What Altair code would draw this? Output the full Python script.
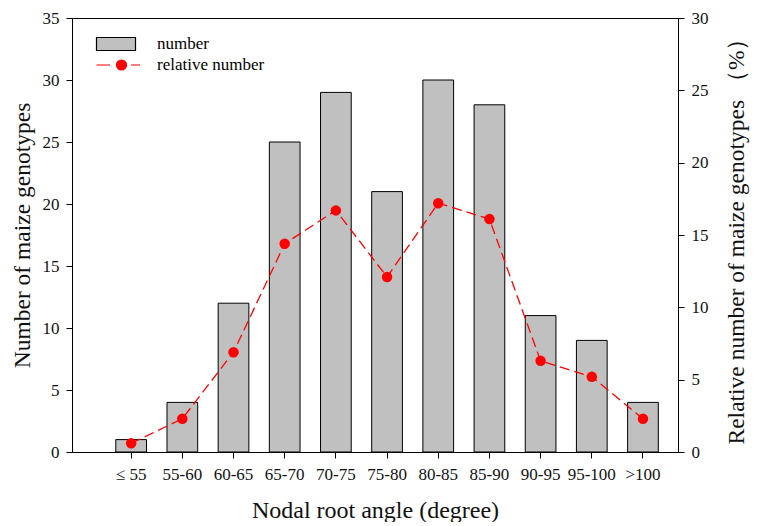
import altair as alt
import pandas as pd

categories = ["≤ 55", "55-60", "60-65", "65-70", "70-75", "75-80",
              "80-85", "85-90", "90-95", "95-100", ">100"]
counts = [1, 4, 12, 25, 29, 21, 30, 28, 11, 9, 4]
relative = [0.6, 2.3, 6.9, 14.4, 16.7, 12.1, 17.2, 16.1, 6.3, 5.2, 2.3]
legend_items = ["number", "relative number"]

df = pd.DataFrame({"angle": categories, "count": counts, "rel": relative})
leg_df = pd.DataFrame({"series": legend_items})

FONT = "Liberation Serif"

xenc = alt.X("angle:N", sort=categories,
             scale=alt.Scale(paddingInner=0.4, paddingOuter=0.62, align=0.69),
             axis=alt.Axis(title="Nodal root angle (degree)", labelAngle=0,
                           labelPadding=8, titlePadding=16, tickSize=6,
                           titleFontSize=24))

bars = alt.Chart(df).mark_bar(color="#c0c0c0", stroke="black", strokeWidth=1).encode(
    x=xenc,
    y=alt.Y("count:Q", scale=alt.Scale(domain=[0, 35]),
            axis=alt.Axis(title="Number of maize genotypes", orient="left",
                          values=list(range(0, 36, 5)), tickSize=6,
                          labelPadding=7, titlePadding=8))
)

yrel = alt.Y("rel:Q", scale=alt.Scale(domain=[0, 30]),
             axis=alt.Axis(title="Relative number of maize genotypes （%）",
                           orient="right", values=list(range(0, 31, 5)),
                           tickSize=6, labelPadding=7, titlePadding=16,
                           titleAngle=270, titleBaseline="top"))

line = alt.Chart(df).mark_line(color="red", strokeDash=[10, 5], strokeWidth=1.3).encode(
    x=xenc, y=yrel)
pts = alt.Chart(df).mark_circle(color="red", size=110, opacity=1).encode(
    x=xenc, y=yrel)
right = alt.layer(line, pts)

rect_path = "M-1.95,-0.65H1.95V0.65H-1.95Z"
line_path = ("M-1.95,0H-0.6M1.5,0H2.4"
             "M1.05,0A0.5,0.5 0 1,1 0.05,0A0.5,0.5 0 1,1 1.05,0Z")

leg = alt.Legend(title=None, orient="none", legendX=33, legendY=15,
                 symbolSize=400, labelOffset=30, labelFont=FONT,
                 labelFontSize=17, labelColor="black", rowPadding=1,
                 padding=0, symbolStrokeWidth=1.2, symbolOpacity=1)

legend_layer = alt.Chart(leg_df).mark_point(filled=True, opacity=0).encode(
    shape=alt.Shape("series:N", scale=alt.Scale(domain=legend_items,
                                                range=[rect_path, line_path]), legend=leg),
    fill=alt.Fill("series:N", scale=alt.Scale(domain=legend_items,
                                              range=["#c0c0c0", "red"]), legend=leg),
    stroke=alt.Stroke("series:N", scale=alt.Scale(domain=legend_items,
                                                  range=["black", "red"]), legend=leg),
)

chart = alt.layer(bars, right, legend_layer).resolve_scale(
    y="independent"
).properties(
    width=606, height=434,
    padding={"left": 2, "top": 1, "right": 5, "bottom": 0}
).configure_view(
    stroke="black", strokeWidth=1
).configure_axis(
    grid=False, domainColor="black", tickColor="black", labelColor="#111",
    titleColor="#111", labelFont=FONT, titleFont=FONT, labelFontSize=17,
    titleFontSize=23.5, titleFontWeight="normal"
)

chart.save("out.html", embed_options={"renderer": "svg", "actions": False})
